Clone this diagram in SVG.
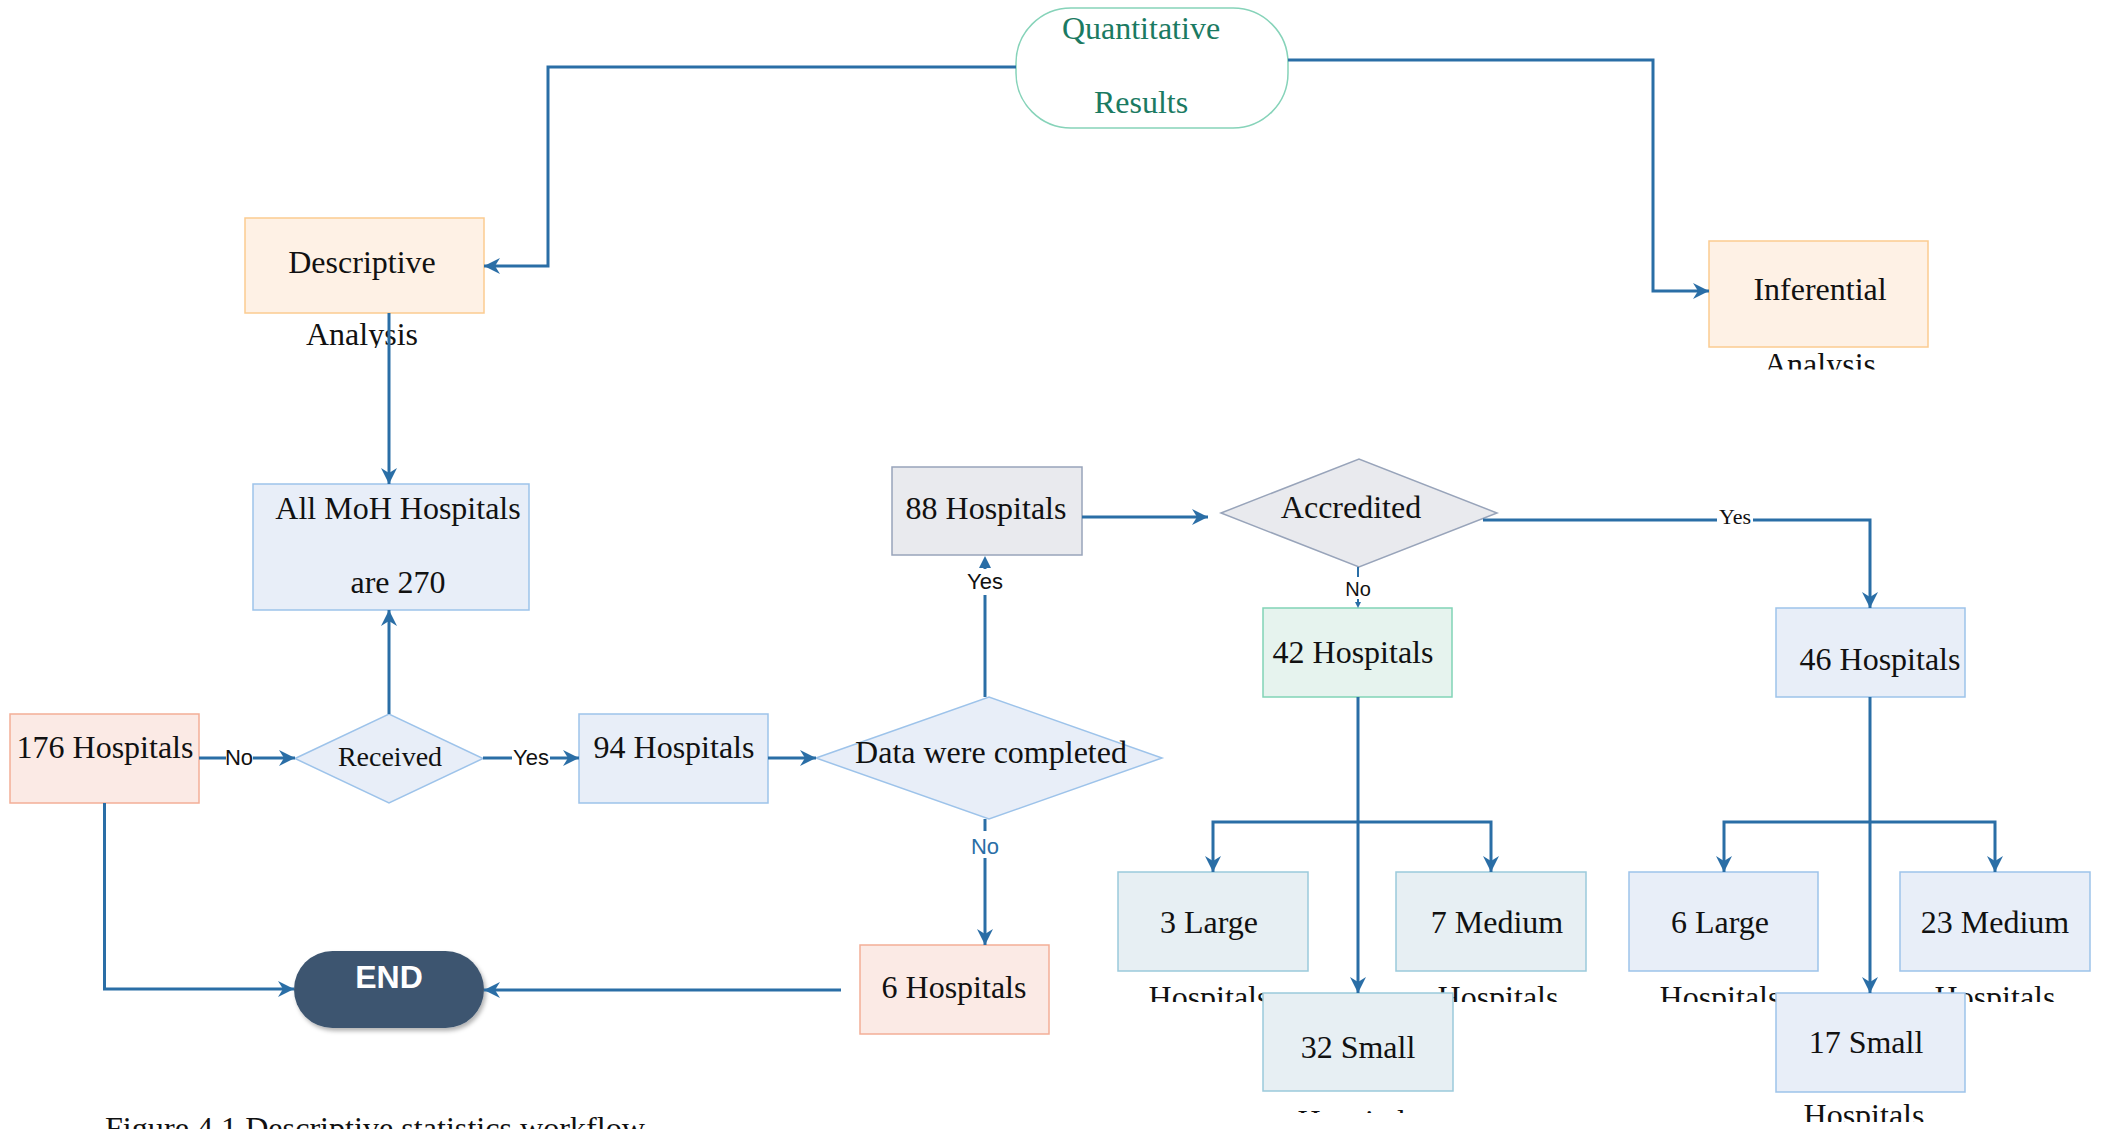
<svg xmlns="http://www.w3.org/2000/svg" width="2101" height="1129" viewBox="0 0 2101 1129">
  <style>
    .t { font-family: "Liberation Serif", "Times New Roman", serif; font-size: 32px; fill: #111; text-anchor: middle; }
    .q { fill: #1b7a62; }
    .lab { font-family: "Liberation Sans", Arial, sans-serif; font-size: 22px; fill: #111; text-anchor: middle; }
    .labs { font-family: "Liberation Serif", "Times New Roman", serif; font-size: 22px; fill: #111; text-anchor: middle; }
    .ln { fill: none; stroke: #2a6ea6; stroke-width: 3; }
    .bg { fill: #fff; }
    .orange { fill: #fef1e5; stroke: #fbcb90; stroke-width: 1.5; }
    .blue { fill: #e8eef8; stroke: #9dc3ea; stroke-width: 1.5; }
    .salmon { fill: #fbeae5; stroke: #f3ae97; stroke-width: 1.5; }
    .grey { fill: #e9eaee; stroke: #98a4ba; stroke-width: 1.5; }
    .mint { fill: #e6f3ee; stroke: #81d4b6; stroke-width: 1.5; }
    .teal { fill: #e7eff3; stroke: #9bcadb; stroke-width: 1.5; }
  </style>
  <defs>
    <marker id="arr" markerUnits="userSpaceOnUse" viewBox="0 0 16 16" refX="16" refY="8" markerWidth="16" markerHeight="16" orient="auto">
      <path d="M0,0 L16,8 L0,16 L5,8 z" fill="#2a6ea6"/>
    </marker>
    <filter id="shadow" x="-20%" y="-20%" width="140%" height="150%">
      <feDropShadow dx="2" dy="3" stdDeviation="2" flood-color="#000" flood-opacity="0.3"/>
    </filter>
    <clipPath id="cDesc"><rect x="200" y="300" width="330" height="48"/></clipPath>
    <clipPath id="cInf"><rect x="1700" y="340" width="240" height="29.5"/></clipPath>
    <clipPath id="cRow"><rect x="1100" y="975" width="1001" height="27"/></clipPath>
    <clipPath id="c17"><rect x="1700" y="1095" width="300" height="27"/></clipPath>
    <clipPath id="c32"><rect x="1250" y="1095" width="220" height="18"/></clipPath>
  </defs>

  <!-- nodes -->
  <g id="quantitative-results">
    <rect x="1016" y="8" width="272" height="120" rx="55" fill="#fff" stroke="#86d3b9" stroke-width="1.5"/>
    <text class="t q" x="1141" y="39">Quantitative</text>
    <text class="t q" x="1141" y="113">Results</text>
  </g>
  <g id="descriptive-analysis">
    <rect class="orange" x="245" y="218" width="239" height="95"/>
    <text class="t" x="362" y="273">Descriptive</text>
    <text class="t" x="362" y="345" clip-path="url(#cDesc)">Analysis</text>
  </g>
  <g id="inferential-analysis">
    <rect class="orange" x="1709" y="241" width="219" height="106"/>
    <text class="t" x="1820" y="300">Inferential</text>
    <text class="t" x="1820" y="375" clip-path="url(#cInf)">Analysis</text>
  </g>
  <g id="all-moh">
    <rect class="blue" x="253" y="484" width="276" height="126"/>
    <text class="t" x="398" y="519">All MoH Hospitals</text>
    <text class="t" x="398" y="593">are 270</text>
  </g>
  <g id="h176">
    <rect class="salmon" x="10" y="714" width="189" height="89"/>
    <text class="t" x="105" y="758">176 Hospitals</text>
  </g>
  <g id="received">
    <polygon class="blue" points="295,758.5 389,714 483,758.5 389,803"/>
    <text class="t" x="390" y="766" style="font-size:28px">Received</text>
  </g>
  <g id="h94">
    <rect class="blue" x="579" y="714" width="189" height="89"/>
    <text class="t" x="674" y="758">94 Hospitals</text>
  </g>
  <g id="data-completed">
    <polygon class="blue" points="816,758 989,697 1162,758 989,819"/>
    <text class="t" x="991" y="763">Data were completed</text>
  </g>
  <g id="h88">
    <rect class="grey" x="892" y="467" width="190" height="88"/>
    <text class="t" x="986" y="519">88 Hospitals</text>
  </g>
  <g id="accredited">
    <polygon class="grey" points="1221,513 1359,459 1497,513 1359,567"/>
    <text class="t" x="1351" y="518">Accredited</text>
  </g>
  <g id="h42">
    <rect class="mint" x="1263" y="608" width="189" height="89"/>
    <text class="t" x="1353" y="663">42 Hospitals</text>
  </g>
  <g id="h46">
    <rect class="blue" x="1776" y="608" width="189" height="89"/>
    <text class="t" x="1880" y="670">46 Hospitals</text>
  </g>
  <g id="h6">
    <rect class="salmon" x="860" y="945" width="189" height="89"/>
    <text class="t" x="954" y="998">6 Hospitals</text>
  </g>
  <g id="end">
    <rect x="294" y="951" width="190" height="77" rx="38.5" fill="#3d5570" filter="url(#shadow)"/>
    <text x="389" y="988" style="font-family:'Liberation Sans',Arial,sans-serif;font-size:32px;font-weight:bold;fill:#fff;text-anchor:middle">END</text>
  </g>
  <g id="large3">
    <rect class="teal" x="1118" y="872" width="190" height="99"/>
    <text class="t" x="1209" y="933">3 Large</text>
    <text class="t" x="1209" y="1008" clip-path="url(#cRow)">Hospitals</text>
  </g>
  <g id="medium7">
    <rect class="teal" x="1396" y="872" width="190" height="99"/>
    <text class="t" x="1497" y="933">7 Medium</text>
    <text class="t" x="1498" y="1008" clip-path="url(#cRow)">Hospitals</text>
  </g>
  <g id="small32">
    <rect class="teal" x="1263" y="993" width="190" height="98"/>
    <text class="t" x="1358" y="1058">32 Small</text>
    <text class="t" x="1358" y="1132" clip-path="url(#c32)">Hospitals</text>
  </g>
  <g id="large6">
    <rect class="blue" x="1629" y="872" width="189" height="99"/>
    <text class="t" x="1720" y="933">6 Large</text>
    <text class="t" x="1720" y="1008" clip-path="url(#cRow)">Hospitals</text>
  </g>
  <g id="medium23">
    <rect class="blue" x="1900" y="872" width="190" height="99"/>
    <text class="t" x="1995" y="933">23 Medium</text>
    <text class="t" x="1995" y="1008" clip-path="url(#cRow)">Hospitals</text>
  </g>
  <g id="small17">
    <rect class="blue" x="1776" y="993" width="189" height="99"/>
    <text class="t" x="1866" y="1053">17 Small</text>
    <text class="t" x="1864" y="1126" clip-path="url(#c17)">Hospitals</text>
  </g>

  <!-- connectors -->
  <g id="connectors">
    <path class="ln" d="M1016,67 H548 V266 H484" marker-end="url(#arr)"/>
    <path class="ln" d="M1288,60 H1653 V291 H1709" marker-end="url(#arr)"/>
    <path class="ln" d="M389,313 V484" marker-end="url(#arr)"/>
    <path class="ln" d="M389,714 V610" marker-end="url(#arr)"/>

    <path class="ln" d="M199,758 H295" marker-end="url(#arr)"/>
    <rect class="bg" x="226" y="746" width="27" height="22"/>
    <text class="lab" x="239" y="765">No</text>

    <path class="ln" d="M483,758 H579" marker-end="url(#arr)"/>
    <rect class="bg" x="512" y="746" width="38" height="22"/>
    <text class="lab" x="531" y="765">Yes</text>

    <path class="ln" d="M768,758 H816" marker-end="url(#arr)"/>

    <path class="ln" d="M985,697 V568"/>
    <polygon points="979,568 991,568 985,556" fill="#2a6ea6"/>
    <rect class="bg" x="965" y="569" width="40" height="26"/>
    <text class="lab" x="985" y="589">Yes</text>

    <path class="ln" d="M985,819 V945" marker-end="url(#arr)"/>
    <rect class="bg" x="970" y="831" width="30" height="27"/>
    <text class="lab" x="985" y="854" style="fill:#2a6ea6">No</text>

    <path class="ln" d="M841,990 H484" marker-end="url(#arr)"/>
    <path class="ln" d="M104.5,803 V989 H294" marker-end="url(#arr)"/>

    <path class="ln" d="M1082,517 H1208" marker-end="url(#arr)"/>

    <path class="ln" d="M1483,520 H1870 V608" marker-end="url(#arr)"/>
    <rect class="bg" x="1717" y="506" width="36" height="22"/>
    <text class="labs" x="1735" y="524">Yes</text>

    <path d="M1358,567 V603" stroke="#2a6ea6" stroke-width="2" fill="none"/>
    <polygon points="1355,602 1361,602 1358,608" fill="#2a6ea6"/>
    <rect class="bg" x="1344" y="577" width="28" height="22"/>
    <text class="lab" x="1358" y="596" style="font-size:20px">No</text>

    <path class="ln" d="M1358,697 V993" marker-end="url(#arr)"/>
    <path class="ln" d="M1358,822 H1213 V872" marker-end="url(#arr)"/>
    <path class="ln" d="M1358,822 H1491 V872" marker-end="url(#arr)"/>

    <path class="ln" d="M1870,697 V993" marker-end="url(#arr)"/>
    <path class="ln" d="M1870,822 H1724 V872" marker-end="url(#arr)"/>
    <path class="ln" d="M1870,822 H1995 V872" marker-end="url(#arr)"/>
  </g>

  <text class="t" x="105" y="1139" style="text-anchor:start" textLength="540" lengthAdjust="spacingAndGlyphs">Figure 4.1 Descriptive statistics workflow</text>
</svg>
